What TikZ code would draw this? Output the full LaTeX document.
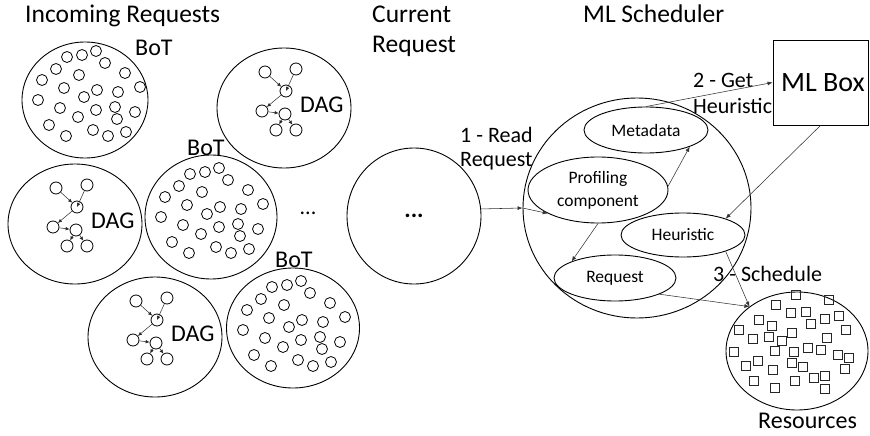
\documentclass[tikz,border=0pt]{standalone}
\usepackage{fontspec}
\setmainfont{Carlito}
\usetikzlibrary{shapes.geometric,arrows.meta}
\begin{document}
\begin{tikzpicture}[x=1pt,y=-1pt,
  ell/.style 2 args={draw,ellipse,line width=0.9pt,inner sep=0pt,minimum width=#1,minimum height=#2},
  title/.style={anchor=base west,inner sep=0pt,font=\fontsize{25.5}{30}\selectfont},
  lbl/.style={anchor=base west,inner sep=0pt,font=\fontsize{22}{26}\selectfont},
  biglbl/.style={anchor=base west,inner sep=0pt,font=\fontsize{24}{28}\selectfont},
  intext/.style={font=\fontsize{17.5}{23}\selectfont,align=center},
  dotc/.style={line width=0.8pt},
  dagc/.style={draw,circle,line width=0.8pt,minimum size=12pt,inner sep=0pt},
  darr/.style={-{Latex[length=4pt,width=3.5pt]},line width=0.5pt,draw=black!85},
  arr/.style={-{Latex[length=5pt,width=4pt]},line width=0.55pt,draw=black!80},
  sq/.style={line width=0.8pt,draw=black!85}
]
\useasboundingbox (0,0) rectangle (870,436);

% titles
\node[title] (t1) at (25,23) {Incoming Requests};
\node[title] (t2) at (372,23) {Current};
\node[title] (t3) at (372,53) {Request};
\node[title] (t4) at (583,23) {ML Scheduler};

% BoT circles
\foreach \i/\cx/\cy/\rx/\ry/\px/\py in {1/85/100/126/116/85/100, 2/211/217/132/124/208/217, 3/293/328/133/120/290/330} {
  \node[ell={\rx}{\ry}] (bot\i) at (\cx,\cy) {};
  \foreach \u/\v in {-18/-43,-3/-45,11/-49,20/-37,-29/-31,-6/-25,40/-27,-43/-20,-21/-12,12/-10,33/-8,55/-13,-47/0,-1/-3,-25/8,11/10,30/7,50/12,-7/17,32/19,-36/25,8/30,41/32,-19/36,23/36}
    \draw[dotc] (\px+\u,\py+\v) circle[radius=5.5pt];
}
\node[biglbl] (bl1) at (135,56) {BoT};
\node[biglbl] (bl2) at (187,155) {BoT};
\node[biglbl] (bl3) at (275,267) {BoT};

% DAG circles
\foreach \i/\dx/\dy in {1/209/-116, 2/0/0, 3/80/113} {
  \begin{scope}[shift={(\dx,\dy)}]
    \node[ell={134}{120}] (dag\i) at (75,224) {};
    \node[dagc] (d\i a) at (56,188) {};
    \node[dagc] (d\i b) at (87,185) {};
    \node[dagc] (d\i c) at (77,207) {};
    \node[dagc] (d\i d) at (53,227) {};
    \node[dagc] (d\i e) at (76,230) {};
    \node[dagc] (d\i f) at (67,246) {};
    \node[dagc] (d\i g) at (87,246) {};
    \draw[darr] (d\i a) -- (d\i c);
    \draw[darr] (d\i b) -- (d\i c.center);
    \draw[darr] (d\i c) -- (d\i d);
    \draw[darr] (d\i d) -- (d\i e);
    \draw[darr] (d\i e) -- (d\i f);
    \draw[darr] (d\i e) -- (d\i g);
    \node[biglbl] (dl\i) at (91,228) {DAG};
  \end{scope}
}

\node[font=\fontsize{22}{26}\selectfont,inner sep=0pt] (dots) at (308,213) {...};

% current request
\node[ell={134}{136},font=\fontsize{24}{26}\selectfont\bfseries] (cur) at (414,216) {...};

% scheduler
\node[ell={228}{220}] (sched) at (637,208) {};
\node[ell={124}{46},intext] (meta) at (646,130) {Metadata};
\node[ell={140}{66},intext] (prof) at (598,190) {Profiling\\component};
\node[ell={124}{44},intext] (heur) at (683,235) {Heuristic};
\node[ell={122}{46},intext] (req) at (615,278) {Request};

% ML box
\node[draw,line width=0.9pt,minimum width=95pt,minimum height=85pt,inner sep=0pt] (mlbox) at (820.5,82.5) {};
\node[anchor=base west,inner sep=0pt,font=\fontsize{28}{32}\selectfont] (mltext) at (781,92) {ML Box};

% resources
\node[ell={142}{118}] (res) at (797,351) {};
\foreach \u/\v in {796/295,829/300,776/305,791/313,806/312,839/316,825/319,759/320,772/326,811/324,739/330,846/330,753/339,769/337,782/341,792/333,827/338,734/352,775/351,794/352,808/348,821/350,838/355,849/358,746/366,758/361,792/363,803/367,773/370,845/369,825/376,814/378,754/381,795/381,775/388,825/389}
  \draw[sq] (\u-4.2,\v-4.2) rectangle ++(8.4,8.4);
\node[biglbl] (rl) at (758,428) {Resources};

% labels
\node[lbl] (l1a) at (460,142) {1 - Read};
\node[lbl] (l1b) at (460,166) {Request};
\node[lbl] (l2a) at (693,87) {2 - Get};
\node[lbl] (l2b) at (693,113) {Heuristic};
\node[lbl] (l3) at (713,281) {3 - Schedule};

% arrows
\draw[arr] (cur.6) -- (sched.180);
\draw[arr] (sched.180) -- (prof.205);
\draw[arr] (prof.3) -- (meta.-21);
\draw[arr] (meta.north) -- (mlbox.west);
\draw[arr] (mlbox.south) -- (heur.21);
\draw[arr] (prof.south) -- (req.159);
\draw[arr] (heur.-21) -- (res.137);
\draw[arr] (req.-20) -- (res.137);
\end{tikzpicture}
\end{document}
